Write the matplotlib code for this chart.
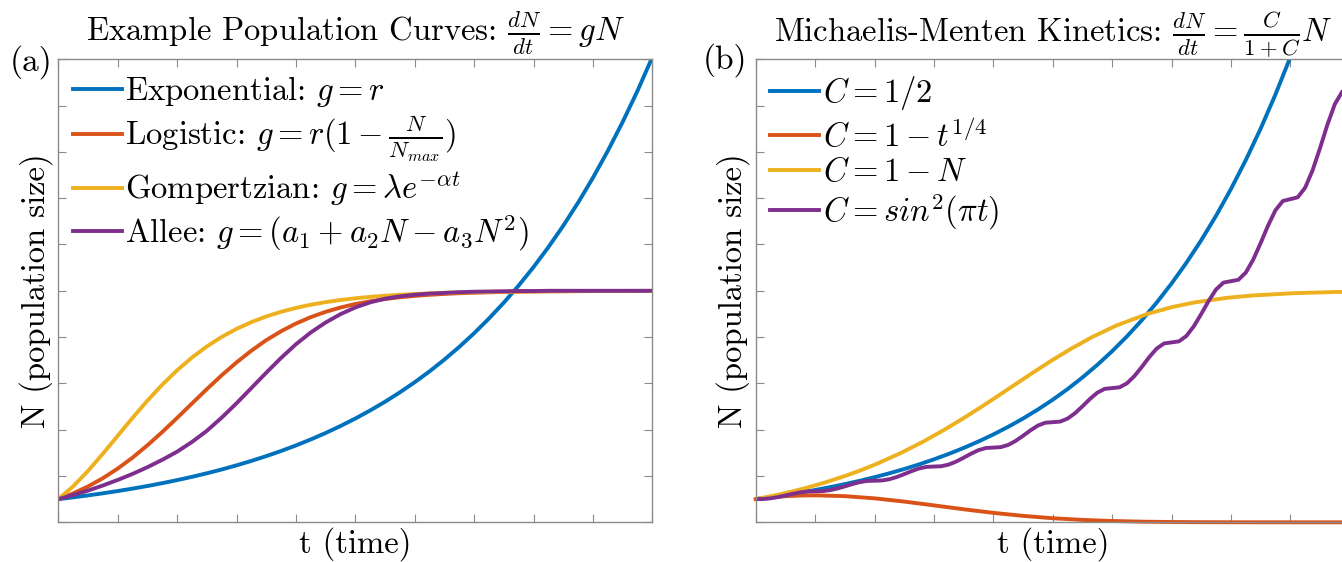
import matplotlib
matplotlib.use('Agg')
import matplotlib.pyplot as plt
import numpy as np

plt.rcParams['font.family'] = 'serif'
plt.rcParams['font.serif'] = ['cmr10', 'DejaVu Serif']
plt.rcParams['mathtext.fontset'] = 'cm'
plt.rcParams['axes.unicode_minus'] = False

# matlab default line colors
colors = ['#0072BD', '#D95319', '#EDB120', '#7E2F8E']

# ---- panel (a): example population curves ----
t_a = [0, 0.25, 0.5, 0.75, 1, 1.25, 1.5, 1.75, 2, 2.25, 2.5, 2.75, 3, 3.25, 3.5, 3.75,
       4, 4.25, 4.5, 4.75, 5, 5.25, 5.5, 5.75, 6, 6.25, 6.5, 6.75, 7, 7.25, 7.5, 7.75,
       8, 8.25, 8.5, 8.75, 9, 9.25, 9.5, 9.75, 10]
exp_a = [0.1000, 0.1078, 0.1162, 0.1252, 0.1350, 0.1455, 0.1568, 0.1690, 0.1822, 0.1964,
         0.2117, 0.2281, 0.2460, 0.2651, 0.2858, 0.3080, 0.3320, 0.3579, 0.3857, 0.4158,
         0.4482, 0.4831, 0.5207, 0.5613, 0.6050, 0.6521, 0.7029, 0.7577, 0.8166, 0.8803,
         0.9488, 1.0227, 1.1023, 1.1882, 1.2807, 1.3805, 1.4880, 1.6039, 1.7288, 1.8634,
         2.0086]
logi_a = [0.1000, 0.1249, 0.1548, 0.1904, 0.2320, 0.2794, 0.3325, 0.3900, 0.4508, 0.5132,
          0.5751, 0.6348, 0.6906, 0.7413, 0.7868, 0.8253, 0.8585, 0.8862, 0.9091, 0.9278,
          0.9429, 0.9545, 0.9646, 0.9720, 0.9781, 0.9828, 0.9865, 0.9895, 0.9918, 0.9936,
          0.9950, 0.9961, 0.9970, 0.9977, 0.9982, 0.9986, 0.9989, 0.9991, 0.9993, 0.9995,
          0.9996]
gomp_a = [0.1000, 0.1554, 0.2219, 0.2961, 0.3738, 0.4512, 0.5255, 0.5944, 0.6566, 0.7117,
          0.7596, 0.8006, 0.8354, 0.8647, 0.8891, 0.9093, 0.9261, 0.9398, 0.9510, 0.9602,
          0.9677, 0.9738, 0.9788, 0.9828, 0.9861, 0.9887, 0.9909, 0.9926, 0.9940, 0.9951,
          0.9961, 0.9968, 0.9974, 0.9979, 0.9983, 0.9986, 0.9989, 0.9991, 0.9993, 0.9994,
          0.9995]
allee_a = [0.100, 0.118, 0.137, 0.159, 0.183, 0.209, 0.238, 0.270, 0.305, 0.347,
           0.395, 0.452, 0.514, 0.580, 0.646, 0.710, 0.769, 0.820, 0.863, 0.899,
           0.928, 0.950, 0.966, 0.976, 0.983, 0.988, 0.991, 0.994, 0.996, 0.997,
           0.998, 0.999, 0.999, 1.000, 1.000, 1.000, 1.000, 1.000, 1.000, 1.000,
           1.000]
labels_a = [r'Exponential: $g = r$',
            r'Logistic: $g = r(1 - \frac{N}{N_{max}})$',
            r'Gompertzian: $g = \lambda e^{-\alpha t}$',
            r'Allee: $g = (a_1 + a_2N - a_3N^2)$']

# ---- panel (b): michaelis-menten kinetics ----
t_half = [0, 0.25, 0.5, 0.75, 1, 1.25, 1.5, 1.75, 2, 2.25, 2.5, 2.75, 3, 3.25, 3.5, 3.75,
          4, 4.25, 4.5, 4.75, 5, 5.25, 5.5, 5.75, 6, 6.25, 6.5, 6.75, 7, 7.25, 7.5, 7.75,
          8, 8.25, 8.5, 8.75, 9, 9.25]
c_half = [0.1000, 0.1087, 0.1181, 0.1284, 0.1396, 0.1517, 0.1649, 0.1792, 0.1948, 0.2117,
          0.2301, 0.2501, 0.2718, 0.2954, 0.3211, 0.3490, 0.3794, 0.4123, 0.4482, 0.4871,
          0.5294, 0.5754, 0.6254, 0.6798, 0.7389, 0.8031, 0.8729, 0.9488, 1.0312, 1.1208,
          1.2182, 1.3241, 1.4392, 1.5643, 1.7002, 1.8480, 2.0086, 2.1832]

t_root = [0, 0.25, 0.5, 0.75, 1, 1.5, 2, 2.5, 3, 3.5, 4, 4.5, 5, 5.5, 6, 6.5, 7, 7.5, 8, 9, 10]
c_root = [0.100, 0.1078, 0.1127, 0.1156, 0.1165, 0.1130, 0.1035, 0.0895, 0.0731, 0.0563,
          0.0408, 0.0278, 0.0176, 0.0104, 0.0057, 0.0028, 0.0013, 0.0005, 0.0002, 0.0, 0.0]

t_lin = [0, 0.202, 0.387, 0.559, 0.718, 0.868, 1.142, 1.504, 1.771, 2.015, 2.449, 2.831,
         3.178, 3.501, 3.807, 4.103, 4.395, 4.688, 4.990, 5.311, 5.663, 6.072, 6.592,
         7.014, 7.393, 7.946, 8.371, 9.085, 9.788, 10]
c_lin = [0.10, 0.11, 0.12, 0.13, 0.14, 0.15, 0.17, 0.20, 0.225, 0.25, 0.30, 0.35, 0.40,
         0.45, 0.50, 0.55, 0.60, 0.65, 0.70, 0.75, 0.80, 0.85, 0.90, 0.93, 0.95, 0.97,
         0.98, 0.99, 0.995, 0.996]

t_sin = [i * 0.125 for i in range(81)]
c_sin = [0.1000, 0.1006, 0.1036, 0.1089, 0.1158, 0.1231, 0.1294, 0.1333,
         0.1340, 0.1348, 0.1388, 0.1460, 0.1552, 0.1649, 0.1735, 0.1786,
         0.1796, 0.1807, 0.1860, 0.1957, 0.2080, 0.2211, 0.2325, 0.2394,
         0.2408, 0.2422, 0.2494, 0.2623, 0.2788, 0.2963, 0.3116, 0.3209,
         0.3227, 0.3246, 0.3342, 0.3515, 0.3736, 0.3971, 0.4177, 0.4301,
         0.4325, 0.4350, 0.4479, 0.4711, 0.5008, 0.5323, 0.5598, 0.5764,
         0.5797, 0.5831, 0.6004, 0.6315, 0.6712, 0.7134, 0.7503, 0.7726,
         0.7770, 0.7815, 0.8047, 0.8464, 0.8996, 0.9562, 1.0057, 1.0355,
         1.0415, 1.0474, 1.0785, 1.1344, 1.2057, 1.2815, 1.3479, 1.3880,
         1.3959, 1.4039, 1.4456, 1.5204, 1.6160, 1.7177, 1.8066, 1.8603,
         1.8709]
labels_b = [r'$C = 1/2$', r'$C = 1 - t^{1/4}$', r'$C = 1 - N$', r'$C = sin^2(\pi t)$']

W, H = 1342, 562
fig = plt.figure(figsize=(W / 100, H / 100), dpi=100)

ax_a = fig.add_axes([58.3 / W, (H - 522.3) / H, 594 / W, 463 / H])
ax_b = fig.add_axes([755.7 / W, (H - 522.3) / H, 594 / W, 463 / H])

lw = 2.8
ax_a.plot(t_a, exp_a, color=colors[0], lw=lw, label=labels_a[0])
ax_a.plot(t_a, logi_a, color=colors[1], lw=lw, label=labels_a[1])
ax_a.plot(t_a, gomp_a, color=colors[2], lw=lw, label=labels_a[2])
ax_a.plot(t_a, allee_a, color=colors[3], lw=lw, label=labels_a[3])

ax_b.plot(t_half, c_half, color=colors[0], lw=lw, label=labels_b[0])
ax_b.plot(t_root, c_root, color=colors[1], lw=lw, label=labels_b[1], clip_on=False)
ax_b.plot(t_lin, c_lin, color=colors[2], lw=lw, label=labels_b[2])
ax_b.plot(t_sin, c_sin, color=colors[3], lw=lw, label=labels_b[3])

fs = 23.5
for ax in (ax_a, ax_b):
    ax.set_xlim(0, 10)
    ax.set_ylim(0, 2)
    ax.set_xticks(np.arange(0, 10.01, 1))
    ax.set_yticks(np.arange(0, 2.01, 0.2))
    ax.set_xticklabels([])
    ax.set_yticklabels([])
    ax.tick_params(direction='in', length=6, width=0.8, color='#8a8a8a',
                   top=True, right=True)
    for sp in ax.spines.values():
        sp.set_color('#8a8a8a')
        sp.set_linewidth(1.0)
    ax.set_xlabel('t (time)', fontsize=fs, labelpad=0)
    ax.set_ylabel('N (population size)', fontsize=fs, labelpad=0.5)
    ax.legend(loc='upper left', frameon=False, fontsize=fs, handlelength=1.5,
              handletextpad=0.1, labelspacing=0.15, borderaxespad=0.3,
              borderpad=0.15)

ax_a.set_title(r'Example Population Curves: $\frac{dN}{dt} = gN$', fontsize=fs, pad=13)
ax_b.set_title(r'Michaelis-Menten Kinetics: $\frac{dN}{dt} = \frac{C}{1+C}N$',
               fontsize=fs, pad=13)

fig.text(10 / W, 1 - 62 / H, '(a)', fontsize=24, va='center', ha='left')
fig.text(703 / W, 1 - 60 / H, '(b)', fontsize=24, va='center', ha='left')

fig.savefig('out.png', dpi=100)
